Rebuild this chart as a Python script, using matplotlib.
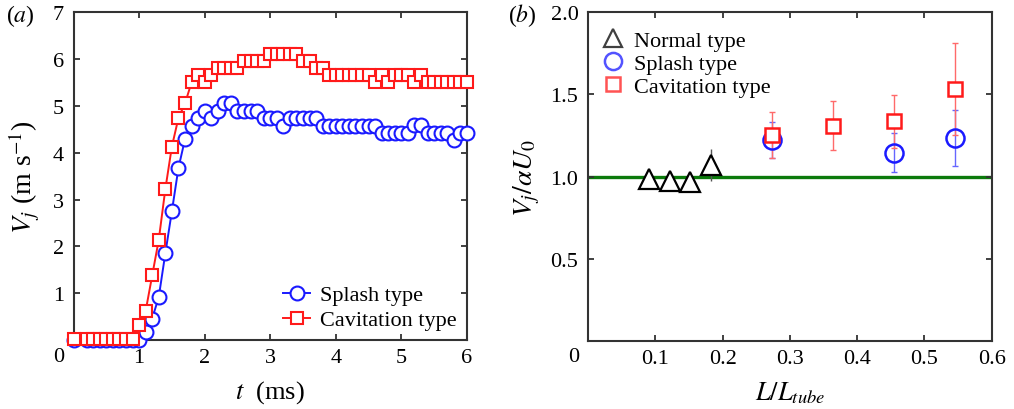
import numpy as np
import matplotlib
matplotlib.use("Agg")
import matplotlib.pyplot as plt

plt.rcParams["font.family"] = ["Liberation Serif", "DejaVu Serif"]
plt.rcParams["mathtext.fontset"] = "stix"

# panel (a): jet velocity vs time
t_ms = [0.0, 0.2, 0.3, 0.4, 0.5, 0.6, 0.7, 0.8, 0.9,
        1.0, 1.1, 1.2, 1.3, 1.4, 1.5, 1.6, 1.7, 1.8, 1.9,
        2.0, 2.1, 2.2, 2.3, 2.4, 2.5, 2.6, 2.7, 2.8, 2.9,
        3.0, 3.1, 3.2, 3.3, 3.4, 3.5, 3.6, 3.7, 3.8, 3.9,
        4.0, 4.1, 4.2, 4.3, 4.4, 4.5, 4.6, 4.7, 4.8, 4.9,
        5.0, 5.1, 5.2, 5.3, 5.4, 5.5, 5.6, 5.7, 5.8, 5.9, 6.0]
splash_v = [0.0, 0.0, 0.0, 0.0, 0.0, 0.0, 0.0, 0.0, 0.0,
            0.0, 0.17, 0.46, 0.92, 1.85, 2.75, 3.67, 4.29, 4.57, 4.73,
            4.89, 4.73, 4.89, 5.05, 5.05, 4.89, 4.89, 4.89, 4.89, 4.73,
            4.73, 4.73, 4.57, 4.73, 4.73, 4.73, 4.73, 4.73, 4.57, 4.57,
            4.57, 4.57, 4.57, 4.57, 4.57, 4.57, 4.57, 4.42, 4.42, 4.42,
            4.42, 4.42, 4.6, 4.6, 4.42, 4.42, 4.42, 4.42, 4.28, 4.42, 4.42]
cavit_v = [0.02, 0.02, 0.02, 0.02, 0.02, 0.02, 0.02, 0.02, 0.02,
           0.32, 0.62, 1.38, 2.14, 3.22, 4.13, 4.74, 5.05, 5.5, 5.65,
           5.5, 5.65, 5.8, 5.8, 5.8, 5.8, 5.95, 5.95, 5.95, 5.95,
           6.1, 6.1, 6.1, 6.1, 6.1, 5.95, 5.95, 5.8, 5.8, 5.65,
           5.65, 5.65, 5.65, 5.65, 5.65, 5.65, 5.5, 5.65, 5.5, 5.65,
           5.65, 5.65, 5.5, 5.65, 5.5, 5.5, 5.5, 5.5, 5.5, 5.5, 5.5]

# panel (b): normalised jet velocity vs L/L_tube
normal_x = [0.091, 0.121, 0.152, 0.182]
normal_y = [0.985, 0.975, 0.964, 1.07]
normal_err = [0.0, 0.0, 0.0, 0.1]
splash_x = [0.273, 0.455, 0.545]
splash_y = [1.22, 1.145, 1.235]
splash_err = [0.11, 0.12, 0.17]
cavit_x = [0.273, 0.364, 0.455, 0.545]
cavit_y = [1.25, 1.31, 1.335, 1.534]
cavit_err = [0.14, 0.15, 0.16, 0.28]

BLUE = "#1a1aff"
RED = "#ff1a1a"
GREEN = "#0b7a0b"
SPINE = "#333333"

fig = plt.figure(figsize=(10.14, 4.10), dpi=100)
ax1 = fig.add_axes([0.0725, 0.168, 0.388, 0.800])
ax2 = fig.add_axes([0.580, 0.166, 0.398, 0.802])


def style(ax):
    for s in ax.spines.values():
        s.set_color(SPINE)
        s.set_linewidth(1.5)
    ax.tick_params(direction="in", length=4, width=1.3, color=SPINE,
                   top=True, right=True, labelsize=16)
    ax.tick_params(axis="x", pad=6)
    ax.tick_params(axis="y", pad=7)


# ---- (a)
ax1.plot(t_ms, splash_v, "-o", color=BLUE, lw=1.4, ms=10, mfc="white",
         mec=BLUE, mew=1.5, clip_on=False, label="Splash type", zorder=3)
ax1.plot(t_ms, cavit_v, "-s", color=RED, lw=1.4, ms=8, mfc="white",
         mec=RED, mew=1.5, clip_on=False, label="Cavitation type", zorder=4)
ax1.set_xlim(0, 6)
ax1.set_ylim(0, 7)
ax1.set_xticks(range(0, 7))
ax1.set_xticklabels([""] + [str(i) for i in range(1, 7)])
ax1.set_yticks(range(1, 8))
style(ax1)
ax1.annotate("0", xy=(0, 0), xycoords="axes fraction", xytext=(-15, -16),
             textcoords="offset pixels", ha="center", va="center", fontsize=16)
ax1.set_xlabel(r"$t$  (ms)", fontsize=19, labelpad=8)
ax1.set_ylabel(r"$V_j$ (m s$^{-1}$)", fontsize=20, labelpad=8)
ax1.legend(loc="lower right", bbox_to_anchor=(0.975, 0.03), frameon=False,
           fontsize=16, handlelength=1.25, handletextpad=0.45,
           labelspacing=0.2, borderpad=0, borderaxespad=0)
fig.text(0.006, 0.962, r"($a$)", fontsize=17, va="center")

# ---- (b)
ax2.axhline(1.0, color=GREEN, lw=2.4, zorder=1)
ax2.errorbar(normal_x, normal_y, yerr=normal_err, fmt="none", ecolor="#555555",
             elinewidth=1.0, capsize=0, zorder=2)
ax2.errorbar(splash_x, splash_y, yerr=splash_err, fmt="none", ecolor="#6666ff",
             elinewidth=1.0, capsize=2, capthick=1.0, zorder=2)
ax2.errorbar(cavit_x, cavit_y, yerr=cavit_err, fmt="none", ecolor="#ff6a6a",
             elinewidth=1.0, capsize=2, capthick=1.0, zorder=2)
ax2.plot(normal_x, normal_y, "^", ms=14, mfc="white", mec="black", mew=1.6,
         ls="none", label="Normal type", zorder=3)
ax2.plot(splash_x, splash_y, "o", ms=13, mfc="none", mec=BLUE, mew=1.8,
         ls="none", label="Splash type", zorder=3)
ax2.plot(cavit_x, cavit_y, "s", ms=10.5, mfc="white", mec=RED, mew=1.8,
         ls="none", label="Cavitation type", zorder=4)
ax2.set_xlim(0, 0.6)
ax2.set_ylim(0, 2.0)
ax2.set_xticks([0.1, 0.2, 0.3, 0.4, 0.5, 0.6])
ax2.set_yticks([0.5, 1.0, 1.5, 2.0])
ax2.set_yticklabels(["0.5", "1.0", "1.5", "2.0"])
style(ax2)
ax2.annotate("0", xy=(0, 0), xycoords="axes fraction", xytext=(-14, -16),
             textcoords="offset pixels", ha="center", va="center", fontsize=16)
ax2.set_xlabel(r"$L/L_{tube}$", fontsize=19, labelpad=8)
ax2.set_ylabel(r"$V_j/\alpha U_0$", fontsize=20, labelpad=6)
leg = ax2.legend(loc="upper left", bbox_to_anchor=(0.035, 0.945), frameon=False,
                 fontsize=16, handlelength=1.0, handletextpad=0.45,
                 labelspacing=0.12, borderpad=0, borderaxespad=0,
                 numpoints=1, markerscale=0.95)
for h in leg.legend_handles:
    h.set_alpha(0.75)
fig.text(0.501, 0.962, r"($b$)", fontsize=17, va="center")

fig.savefig("out.png", dpi=100)
